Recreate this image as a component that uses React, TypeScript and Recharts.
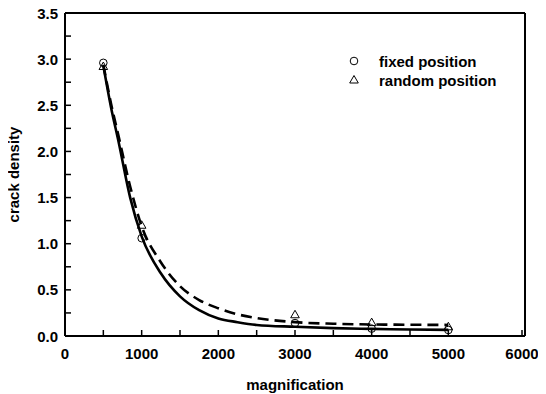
import React from 'react';
import { ComposedChart, Line, Scatter, XAxis, YAxis, ReferenceLine } from 'recharts';

// measured points
const magnification = [500, 1000, 3000, 4000, 5000];
const fixedDensity = [2.96, 1.06, 0.14, 0.08, 0.065];
const randomDensity = [2.92, 1.2, 0.23, 0.145, 0.1];

// fitted curves
const curveX = [500, 600, 700, 850, 1000, 1250, 1500, 1750, 2000, 2250, 2500, 3000, 3500, 4000, 4500, 5000];
const fixedFit = [2.93, 2.48, 2.1, 1.5, 1.08, 0.68, 0.43, 0.28, 0.19, 0.15, 0.12, 0.1, 0.085, 0.077, 0.07, 0.066];
const randomFit = [2.94, 2.52, 2.16, 1.62, 1.19, 0.8, 0.54, 0.39, 0.3, 0.235, 0.195, 0.15, 0.133, 0.125, 0.122, 0.12];

const xTicks = [0, 500, 1000, 1500, 2000, 2500, 3000, 3500, 4000, 4500, 5000, 5500, 6000];
const yTicks = [0, 0.25, 0.5, 0.75, 1, 1.25, 1.5, 1.75, 2, 2.25, 2.5, 2.75, 3, 3.25, 3.5];

const FONT = '"Liberation Sans", Arial, sans-serif';
const FS = 15;

const fixedPoints = magnification.map((x, i) => ({ x, y: fixedDensity[i] }));
const randomPoints = magnification.map((x, i) => ({ x, y: randomDensity[i] }));
const fixedCurve = curveX.map((x, i) => ({ x, y: fixedFit[i] }));
const randomCurve = curveX.map((x, i) => ({ x, y: randomFit[i] }));

const XTick = (props: any) => {
  const { x, y, payload } = props;
  const v = payload.value;
  return (
    <g>
      <line x1={x} y1={y} x2={x} y2={y - 6} stroke="#000" strokeWidth={1.5} />
      {v % 1000 === 0 && (
        <text x={x} y={y + 23} textAnchor="middle" fontFamily={FONT} fontWeight="bold" fontSize={FS} fill="#000">
          {v}
        </text>
      )}
    </g>
  );
};

const YTick = (props: any) => {
  const { x, y, payload } = props;
  const v = payload.value;
  return (
    <g>
      <line x1={x} y1={y} x2={x + 6} y2={y} stroke="#000" strokeWidth={1.5} />
      {(v * 2) % 1 === 0 && (
        <text x={x - 7} y={y + 5.5} textAnchor="end" fontFamily={FONT} fontWeight="bold" fontSize={FS} fill="#000">
          {v.toFixed(1)}
        </text>
      )}
    </g>
  );
};

const Circle = (props: any) => (
  <circle cx={props.cx} cy={props.cy} r={3.8} fill="none" stroke="#000" strokeWidth={1} />
);

const Triangle = (props: any) => {
  const { cx, cy } = props;
  return (
    <polygon
      points={`${cx},${cy - 4.5} ${cx - 4.3},${cy + 3} ${cx + 4.3},${cy + 3}`}
      fill="none"
      stroke="#000"
      strokeWidth={1}
    />
  );
};

const LegendBox = () => (
  <svg width={190} height={40} style={{ position: 'absolute', left: 346, top: 51, overflow: 'visible' }}>
    <circle cx={8} cy={10} r={3.8} fill="none" stroke="#000" strokeWidth={1} />
    <text x={33} y={15.5} fontFamily={FONT} fontWeight="bold" fontSize={FS}>fixed position</text>
    <polygon points="8,24.5 3.7,32 12.3,32" fill="none" stroke="#000" strokeWidth={1} />
    <text x={33} y={34.5} fontFamily={FONT} fontWeight="bold" fontSize={FS}>random position</text>
  </svg>
);

const App = () => {
  return (
    <div style={{ width: 538, height: 394, position: 'relative', marginLeft: -8, marginTop: -8 }}>
      <ComposedChart width={538} height={394} margin={{ top: 13, right: 13, left: 0, bottom: 0 }}>
        <XAxis
          dataKey="x"
          type="number"
          domain={[0, 6000]}
          ticks={xTicks}
          tick={<XTick />}
          tickLine={false}
          tickSize={0}
          tickMargin={0}
          height={58}
          axisLine={{ stroke: '#000', strokeWidth: 2 }}
          allowDataOverflow
          label={{ value: 'magnification', position: 'insideBottom', offset: 0, dy: -4, style: { fontFamily: FONT, fontWeight: 'bold', fontSize: FS, fill: '#000' } }}
        />
        <YAxis
          dataKey="y"
          type="number"
          domain={[0, 3.5]}
          ticks={yTicks}
          tick={<YTick />}
          tickLine={false}
          tickSize={0}
          tickMargin={0}
          width={65}
          interval={0}
          axisLine={{ stroke: '#000', strokeWidth: 2 }}
          allowDataOverflow
          label={{ value: 'crack density', angle: -90, position: 'insideLeft', offset: 14, style: { textAnchor: 'middle', fontFamily: FONT, fontWeight: 'bold', fontSize: FS, fill: '#000' } }}
        />
        <ReferenceLine y={3.5} stroke="#000" strokeWidth={2} />
        <ReferenceLine x={6000} stroke="#000" strokeWidth={2} />
        <Line data={fixedCurve} dataKey="y" type="monotone" stroke="#000" strokeWidth={2.6} dot={false} isAnimationActive={false} />
        <Line data={randomCurve} dataKey="y" type="monotone" stroke="#000" strokeWidth={2.6} strokeDasharray="11 6" dot={false} isAnimationActive={false} />
        <Scatter data={fixedPoints} shape={<Circle />} isAnimationActive={false} />
        <Scatter data={randomPoints} shape={<Triangle />} isAnimationActive={false} />
      </ComposedChart>
      <LegendBox />
    </div>
  );
};

export default App;
